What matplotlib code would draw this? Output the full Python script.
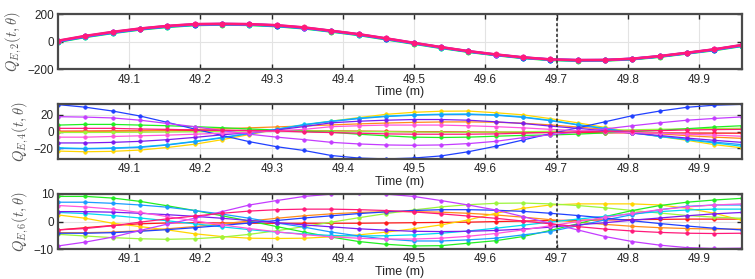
import numpy as np
import matplotlib.pyplot as plt

plt.rcParams['font.family'] = ['Liberation Sans', 'DejaVu Sans']
plt.rcParams['mathtext.fontset'] = 'cm'

# time axis (minutes)
t = np.linspace(49.0, 49.96, 26)
t_mark = 49.7

colors = {
    'red': '#ff1a1a', 'orange': '#ff8c1a', 'yellow': '#ffd500', 'lime': '#9cf53c',
    'green': '#22ee22', 'cyan': '#00d8f0', 'azure': '#1a9cff', 'blue': '#2040ff',
    'purple': '#7a1cf0', 'violet': '#c43cff', 'pink': '#ff55dd', 'rose': '#ff1a7a',
}

# ---- Q_E,2 ----
q2_green = [0, 35, 64, 89, 108, 121, 125, 122, 113, 97, 74, 49, 18, -13, -44, -72, -96, -117, -131, -136, -135, -126, -108, -84, -60, -30]
q2_cyan = [2, 37, 66, 91, 110, 123, 127, 124, 115, 99, 76, 51, 20, -11, -42, -70, -94, -115, -129, -134, -133, -124, -106, -82, -58, -28]
q2_blue = [4, 39, 68, 93, 112, 125, 128, 126, 117, 101, 78, 53, 22, -9, -40, -69, -93, -114, -128, -133, -132, -123, -105, -81, -56, -26]
q2_violet = [6, 41, 70, 95, 114, 127, 129, 127, 119, 103, 79, 54, 24, -8, -39, -68, -92, -113, -127, -132, -132, -122, -104, -80, -55, -25]
q2_rose = [8, 43, 72, 96, 115, 128, 130, 128, 120, 104, 80, 55, 25, -7, -38, -67, -91, -112, -127, -132, -131, -122, -103, -79, -54, -23]

# ---- Q_E,4 ----
q4_blue = [32.2, 29.1, 24.5, 18.6, 11, 3, -4.6, -12, -18, -22.5, -28.5, -31.5, -32.5, -31.5, -29, -24, -17.5, -10, -2.5, 4.5, 11.7, 19, 24.5, 29, 31.5, 32.5]
q4_violet = [17.8, 17.3, 16.3, 13.6, 9.7, 5.9, 1.2, -3.1, -6.6, -9.5, -12.8, -14.7, -15.9, -16.3, -15.9, -14.3, -11.6, -7.2, -3.8, -0.3, 3.2, 7, 10.5, 13.6, 15.7, 17.5]
q4_yellow = [-23.2, -24, -23.5, -22, -18.9, -15, -9.6, -3.5, 2.7, 8, 12.5, 16.7, 20.6, 23, 24.3, 24.5, 22.5, 20, 15.5, 10.5, 5, -0.5, -5.8, -10.4, -15.5, -19.3]
q4_cyan = [-19.3, -20.1, -19.5, -18.2, -15.5, -11.6, -6.9, -2, 3, 8.5, 12.5, 16, 18.5, 20, 20.8, 21, 20, 17.5, 13.6, 8.5, 3.9, -1.5, -5.8, -9.6, -13.5, -17.4]
q4_azure = [-20, -20.5, -20, -18.8, -16, -12, -7.5, -2.5, 2.5, 8, 12, 15.5, 18, 19.5, 20.3, 20.5, 19.5, 17, 13, 8, 3.5, -1.5, -5.5, -9, -12.5, -15.5]
q4_purple = [-13.5, -13.5, -12.8, -11.6, -9.6, -6.9, -3.8, -1.2, 2, 6, 10.5, 12.4, 13.6, 14.4, 14.4, 13.6, 11.7, 9.7, 6.6, 3.9, 1.2, -1.9, -4.6, -7.7, -10.4, -12.8]
q4_green = [7.8, 8.6, 8.6, 7.8, 7, 5.9, 4.7, 3.1, 2, 0.5, -0.8, -3.1, -5, -6.6, -7, -6.6, -5.5, -4.5, -4, -3, -1.5, 0, 1.5, 3.5, 5.5, 7]
q4_red = [0.5, 0.6, 0.8, 1, 1.2, 1.4, 1.5, 1.5, 1.4, 1.2, 1, 0.6, 0.3, 0, -0.2, -0.4, -0.6, -0.8, -1, -1.2, -1.4, -1.5, -1.6, -1.7, -1.8, -1.9]
q4_pink = [-6.6, -6.6, -5.8, -5, -4.2, -3.1, -1.9, -0.8, 0.8, 2.7, 5.9, 7, 7.8, 7.8, 7.8, 7, 5.9, 4.5, 2.7, 1.2, 0, -1.1, -1.9, -3.1, -4.2, -5.5]
q4_rose = [3.9, 3.9, 3.9, 3.1, 2.7, 2, 1.6, 1.2, 0.8, -0.4, -1.1, -1.9, -2.7, -3.1, -3.1, -3.1, -2.7, -1.9, -1.1, -0.4, 0.3, 0.8, 1.2, 2, 2.4, 2.7]
q4_orange = [0, 0.2, 0.6, 1.1, 1.8, 2.6, 3.5, 4.5, 5.6, 6.8, 8, 9.2, 10.2, 11, 11.5, 11.6, 11.2, 10, 8, 5.5, 2.8, 0, -2.6, -4.8, -6.6, -8]
q4_lime = [-1, -1, -0.9, -0.7, -0.4, 0, 0.4, 0.8, 1, 1, 0.8, 0.4, 0, -0.4, -0.7, -0.8, -0.6, -0.2, 0.4, 1, 1.6, 2.2, 2.8, 3.3, 3.7, 4]

# ---- Q_E,6 ----
q6_green = [9.1, 9.1, 8.5, 7.3, 5.7, 4, 2.1, 0.2, -1.8, -3.8, -5.6, -7.2, -8.2, -8.8, -8.7, -7.8, -6.9, -5.4, -3.2, -0.8, 1.8, 4, 5.8, 7, 7.8, 8.4]
q6_azure = [7, 7, 6.6, 6, 5.2, 4, 2.7, 1.2, -0.5, -2, -3.8, -5.2, -6.3, -7, -7, -6.6, -6, -4.8, -3.6, -1.5, 0.6, 2.5, 4.3, 5.5, 6, 6]
q6_violet = [-8.8, -7.4, -5.6, -3.2, -0.9, 1.2, 3.6, 6, 7.6, 9.1, 9.9, 10.3, 9.9, 9.1, 7.6, 6, 4.2, 1.8, -0.6, -3, -5.4, -7.2, -8.5, -9.4, -9.7, -9.6]
q6_pink = [5.8, 5.3, 4.5, 3.3, 1.8, 0.3, -1.2, -2.5, -3.7, -4.7, -5.5, -6, -6.3, -6.3, -6, -5.3, -4.3, -3, -1.5, 0, 1.5, 3, 4.3, 5.3, 6, 6.4]
q6_blue = [-4.2, -4.2, -4, -3.5, -2.9, -2.2, -1.4, -0.5, 0.4, 1.3, 2.1, 2.9, 3.5, 4, 4.3, 4.3, 4.1, 3.7, 3, 2.2, 1.3, 0.3, -0.7, -1.6, -2.4, -3]
q6_purple = [3.6, 3.6, 3.4, 3, 2.5, 1.9, 1.2, 0.4, -0.4, -1.2, -1.9, -2.6, -3.1, -3.5, -3.6, -3.5, -3.2, -2.7, -2, -1.2, -0.4, 0.5, 1.3, 2.1, 2.8, 3.3]
q6_yellow = [2.4, 1.2, -0.6, -1.8, -3, -4.4, -5.4, -6, -6.1, -6, -5.5, -4.8, -3.8, -2.6, -1.2, 0.6, 3, 4.8, 6, 6.4, 6.4, 6.4, 6, 4.8, 3, 0.5]
q6_lime = [-4.6, -5.2, -5.8, -6.2, -6.4, -6.2, -5.6, -4.6, -3.3, -1.8, -0.2, 1.4, 2.9, 4.2, 5.3, 6.1, 6.6, 6.7, 6.4, 5.8, 5, 4, 3.1, 2.2, 1.6, 1.2]
q6_red = [-3, -2.2, -1.4, -0.8, -0.5, -0.4, -0.5, -0.6, -0.6, -0.6, -0.6, -0.6, -0.5, -0.4, -0.3, -0.2, 0, 0.2, 0.4, 0.5, 0.6, 0.7, 0.8, 0.9, 0.9, 0.9]
q6_rose = [-3, -2.5, -1.5, -0.2, 1, 2, 3, 3.8, 4.3, 4.5, 4.5, 4.3, 4, 3.5, 2.8, 2, 1.2, 0.2, -0.8, -1.8, -2.7, -3.4, -3.9, -4.2, -4.3, -4.2]
q6_cyan = [3.3, 2.9, 2.2, 1.3, 0.3, -0.8, -1.9, -2.9, -3.8, -4.5, -5, -5.2, -5.1, -4.8, -4.2, -3.4, -2.4, -1.3, -0.2, 0.9, 1.9, 2.8, 3.6, 4.2, 4.5, 4.5]
q6_orange = [-4, -4, -3.8, -3.3, -2.6, -1.8, -0.8, 0.2, 1.2, 2.1, 2.8, 3.3, 3.6, 3.6, 3.4, 3, 2.4, 1.6, 0.7, -0.2, -1, -1.7, -2.2, -2.5, -2.7, -2.7]

panel_q2 = [('green', q2_green), ('cyan', q2_cyan), ('blue', q2_blue),
            ('violet', q2_violet), ('rose', q2_rose)]
panel_q4 = [('red', q4_red), ('orange', q4_orange), ('yellow', q4_yellow), ('lime', q4_lime),
            ('green', q4_green), ('cyan', q4_cyan), ('azure', q4_azure), ('blue', q4_blue),
            ('purple', q4_purple), ('violet', q4_violet), ('pink', q4_pink), ('rose', q4_rose)]
panel_q6 = [('red', q6_red), ('orange', q6_orange), ('yellow', q6_yellow), ('lime', q6_lime),
            ('green', q6_green), ('cyan', q6_cyan), ('azure', q6_azure), ('blue', q6_blue),
            ('purple', q6_purple), ('violet', q6_violet), ('pink', q6_pink), ('rose', q6_rose)]

panels = [
    (panel_q2, r'$Q_{E,2}(t,\theta)$', (-200, 200), [-200, 0, 200], 1.8, 3.8),
    (panel_q4, r'$Q_{E,4}(t,\theta)$', (-33, 33), [-20, 0, 20], 0.9, 2.6),
    (panel_q6, r'$Q_{E,6}(t,\theta)$', (-10, 10), [-10, 0, 10], 0.9, 2.6),
]
bottoms = [0.7509, 0.4290, 0.1065]

fig = plt.figure(figsize=(7.55, 2.79), dpi=100)
for (series, ylab, ylim, yticks, lw, ms), b in zip(panels, bottoms):
    ax = fig.add_axes([0.0768, b, 0.9056, 0.1985])
    for name, vals in series:
        ax.plot(t, vals, '-', color=colors[name], lw=lw, marker='o', ms=ms,
                markeredgewidth=0.4)
    ax.axvline(t_mark, color='#222222', lw=1.1, ls=(0, (2, 1.5)))
    ax.set_xlim(49.0, 49.96)
    ax.set_ylim(*ylim)
    ax.set_yticks(yticks)
    ax.set_xticks([49.1, 49.2, 49.3, 49.4, 49.5, 49.6, 49.7, 49.8, 49.9])
    ax.grid(True, color='#e3e3e3', lw=0.8)
    ax.set_axisbelow(True)
    ax.tick_params(direction='in', length=3.5, width=1, top=True, right=True,
                   labelsize=8.5, colors='#262626', pad=3)
    for s in ax.spines.values():
        s.set_color('#4a4a4a')
        s.set_linewidth(1.6)
    ax.set_xlabel('Time (m)', fontsize=9, color='#262626', labelpad=0.5)
    ax.set_ylabel(ylab, fontsize=10.5, color='#555555', labelpad=2)

plt.savefig('out.png', dpi=100, facecolor='white')
